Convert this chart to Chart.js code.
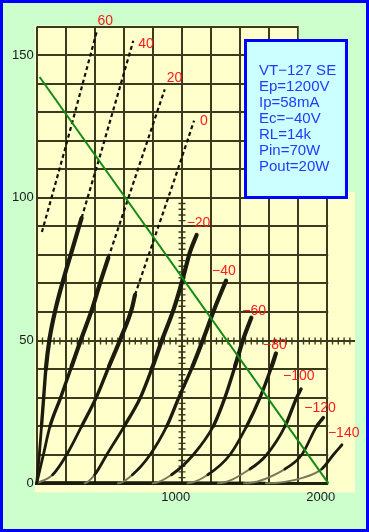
<!DOCTYPE html>
<html><head><meta charset="utf-8">
<script src="https://cdn.jsdelivr.net/npm/chart.js@4.4.1/dist/chart.umd.min.js"></script>
<style>html,body{margin:0;padding:0;background:#ccffcc;}canvas{display:block;}</style>
</head><body>
<canvas id="c" width="369" height="532"></canvas>
<script>
// ---------- data : plate voltage (V), plate current (mA) ----------
const xTickLabels = [1000, 2000];
const yTickLabels = [0, 50, 100, 150];
const gridLabels = ['60','40','20','0','\u221220','\u221240','\u221260','\u221280','\u2212100','\u2212120','\u2212140'];

const g60Dash  = [[36,88],[195,117],[413,158]];
const g40Solid = [[0,0],[18,10],[33,20],[48,30],[63,40],[90,51],[130,61],[182,71],[240,81],[310,93]];
const g40Dash  = [[310,93],[450,117],[666,155]];
const g20Solid = [[0,0],[46,10],[92,20],[165,30],[241,41],[310,51],[382,61],[430,69],[494,79]];
const g20Dash  = [[494,79],[817,128],[883,138]];
const g0Solid  = [[0,0],[110,3],[207,10],[310,20],[410,30],[499,41],[581,51],[655,61],[678,66]];
const g0Dash   = [[678,66],[954,107],[1085,127]];
const gm20  = [[0,0],[330,0],[400,3],[483,10],[604,20],[715,30],[793,40],[870,51],[945,61],[1004,71],[1057,81],[1103,87]];
const gm40  = [[0,0],[560,0],[660,3],[782,10],[897,20],[980,30],[1075,41],[1152,51],[1225,61],[1306,71]];
const gm60  = [[0,0],[800,0],[930,3],[1080,10],[1218,20],[1298,30],[1368,41],[1428,51],[1480,58]];
const gm80  = [[0,0],[1040,0],[1180,3],[1333,10],[1448,20],[1540,30],[1621,41],[1650,45.5]];
const gm100 = [[0,0],[1250,0],[1471,5],[1586,10],[1713,20],[1793,30],[1823,33]];
const gm120 = [[0,0],[1430,0],[1712,5],[1828,10],[1931,20],[1977,23]];
const gm140 = [[0,0],[1580,0],[1840,2],[1966,5],[2046,10],[2105,13.5]];
const loadLine = [[20,142.3],[2012,0]];
const infoLines = ['VT\u2212127 SE','Ep=1200V','Ip=58mA','Ec=\u221240V','RL=14k','Pin=70W','Pout=20W'];

// curves whose last point carries each label (same order as gridLabels)
const labelCurves = [g60Dash,g40Dash,g20Dash,g0Dash,gm20,gm40,gm60,gm80,gm100,gm120,gm140];

// ---------- styles ----------
const BG = '#ccffcc', PAPER = '#ffffcc', GRID = '#3a3a1c', INK = '#1c1c0e';
const GRID_END = 2000;      // printed grid stops here
const labelOffsets = [[1,-11],[5,3],[2,-11],[6,0],[-10,-12],[-14,-9],[-9,-7],[-13,-8],[-18,-13],[-19,-9],[-14,-12]];

const toXY = a => a.map(([x,y]) => ({x, y}));
function solidDS(arr){
  return {
    data: toXY(arr), pointRadius: 0, borderColor: INK, borderWidth: 3.5,
    borderCapStyle: 'round', borderJoinStyle: 'round',
    cubicInterpolationMode: 'monotone', clip: false,
    segment: {
      borderWidth: c => { const v = (c.p0.parsed.y + c.p1.parsed.y) / 2;
        return v <= 0.2 ? 3 : v < 5 ? 2 : v < 18 ? 2.8 : v < 40 ? 3.4 : 4.2; },
      borderColor: c => { const v = (c.p0.parsed.y + c.p1.parsed.y) / 2;
        return (v > 0.2 && v < 5) ? '#77775a' : INK; }
    }
  };
}
function dashDS(arr){
  return { data: toXY(arr), pointRadius: 0, borderColor: '#111108', borderWidth: 2.2,
    borderDash: [4,3], clip: false };
}

const datasets = [
  { data: toXY(loadLine), pointRadius: 0, borderColor: '#138a13', borderWidth: 2, clip: false },
  dashDS(g60Dash), solidDS(g40Solid), dashDS(g40Dash), solidDS(g20Solid), dashDS(g20Dash),
  solidDS(g0Solid), dashDS(g0Dash), solidDS(gm20), solidDS(gm40), solidDS(gm60),
  solidDS(gm80), solidDS(gm100), solidDS(gm120), solidDS(gm140)
];

const decor = {
  id: 'decor',
  beforeDraw(chart){
    const {ctx, chartArea: a, scales: {x}} = chart;
    ctx.save();
    ctx.fillStyle = BG; ctx.fillRect(0, 0, chart.width, chart.height);
    ctx.fillStyle = PAPER;
    const cut = x.getPixelForValue(1800), right = x.getPixelForValue(2195);
    ctx.beginPath();
    ctx.moveTo(a.left - 2, a.top - 1);
    ctx.lineTo(cut + 1, a.top - 1);
    ctx.lineTo(cut + 1, 192);
    ctx.lineTo(right, 192);
    ctx.lineTo(right, a.bottom + 9);
    ctx.lineTo(a.left - 2, a.bottom + 9);
    ctx.closePath(); ctx.fill();
    ctx.restore();
  },
  beforeDatasetsDraw(chart){
    const {ctx, chartArea: a, scales: {x, y}} = chart;
    ctx.save();
    const cut = x.getPixelForValue(1800);
    const gEnd = x.getPixelForValue(GRID_END) + 1.5;
    const right = x.getPixelForValue(2195);
    // hide grid beyond the printed sheet
    ctx.fillStyle = BG;
    ctx.fillRect(cut + 1, 0, chart.width - cut, 40);
    ctx.fillRect(gEnd, 0, chart.width - gEnd, 192);
    ctx.fillRect(right, 0, chart.width - right, chart.height);
    ctx.fillStyle = PAPER;
    ctx.fillRect(gEnd, 192, right - gEnd, a.bottom + 9 - 192);
    // hatched 50 mA line
    ctx.strokeStyle = GRID; ctx.lineWidth = 2;
    const y50 = Math.round(y.getPixelForValue(50));
    ctx.beginPath(); ctx.moveTo(gEnd - 2, y50); ctx.lineTo(right, y50); ctx.stroke();
    ctx.lineWidth = 1.4;
    ctx.beginPath();
    for (let v = 0; v <= 2190; v += 40) {
      const px = x.getPixelForValue(v);
      ctx.moveTo(px, y50 - 3.5); ctx.lineTo(px, y50 + 3.5);
    }
    const x1000 = Math.round(x.getPixelForValue(1000));
    for (let i = 2; i <= 100; i += 2) {
      const py = y.getPixelForValue(i);
      ctx.moveTo(x1000 - 3.5, py); ctx.lineTo(x1000 + 3.5, py);
    }
    ctx.stroke();
    ctx.restore();
  },
  afterDatasetsDraw(chart){
    const {ctx, scales: {x, y}} = chart;
    ctx.save();
    // grid-voltage labels
    ctx.fillStyle = '#ff1a1a';
    ctx.font = '14px "Liberation Sans"';
    ctx.textAlign = 'left'; ctx.textBaseline = 'middle';
    gridLabels.forEach((t, i) => {
      const c = labelCurves[i], p = c[c.length - 1];
      ctx.fillText(t, x.getPixelForValue(p[0]) + labelOffsets[i][0], y.getPixelForValue(p[1]) + labelOffsets[i][1]);
    });
    // info box
    ctx.fillStyle = '#ccffff';
    ctx.fillRect(244, 39, 104, 160);
    ctx.strokeStyle = '#0000ff'; ctx.lineWidth = 3;
    ctx.strokeRect(245.5, 40.5, 101, 157);
    ctx.fillStyle = '#1f3cff';
    ctx.font = '15px "Liberation Sans"';
    infoLines.forEach((t, i) => ctx.fillText(t, 259, 71 + 16 * i));
    ctx.restore();
  },
  afterDraw(chart){
    const ctx = chart.ctx;
    ctx.save();
    ctx.strokeStyle = '#0000ff'; ctx.lineWidth = 3;
    ctx.strokeRect(1.5, 1.5, chart.width - 3, chart.height - 3);
    ctx.restore();
  }
};

new Chart(document.getElementById('c'), {
  type: 'line',
  data: { datasets },
  options: {
    responsive: false, animation: false, devicePixelRatio: 1,
    layout: { padding: { top: 26.5, right: 13.3, left: 0, bottom: 0 } },
    plugins: { legend: { display: false }, tooltip: { enabled: false } },
    elements: { point: { radius: 0 } },
    scales: {
      x: {
        type: 'linear', min: 0, max: 2200,
        afterFit: s => { s.height = 48.7; },
        grid: { color: c => (c.tick && c.tick.value > GRID_END) ? 'rgba(0,0,0,0)' : GRID, lineWidth: 2, drawTicks: false },
        border: { display: true, color: '#222211', width: 3 },
        ticks: { stepSize: 200, autoSkip: false, maxRotation: 0, padding: 6, labelOffset: -6,
          color: '#1a1a1a', font: { family: 'Liberation Sans', size: 13 },
          callback: v => xTickLabels.includes(v) ? String(v) : '' }
      },
      y: {
        type: 'linear', min: 0, max: 160,
        afterFit: s => { s.width = 36.7; },
        grid: { color: GRID, lineWidth: 2, drawTicks: false },
        border: { display: false },
        ticks: { stepSize: 10, autoSkip: false, padding: 3,
          color: '#1a1a1a', font: { family: 'Liberation Sans', size: 13 },
          callback: v => yTickLabels.includes(v) ? String(v) : '' }
      }
    }
  },
  plugins: [decor]
});
</script>
</body></html>
